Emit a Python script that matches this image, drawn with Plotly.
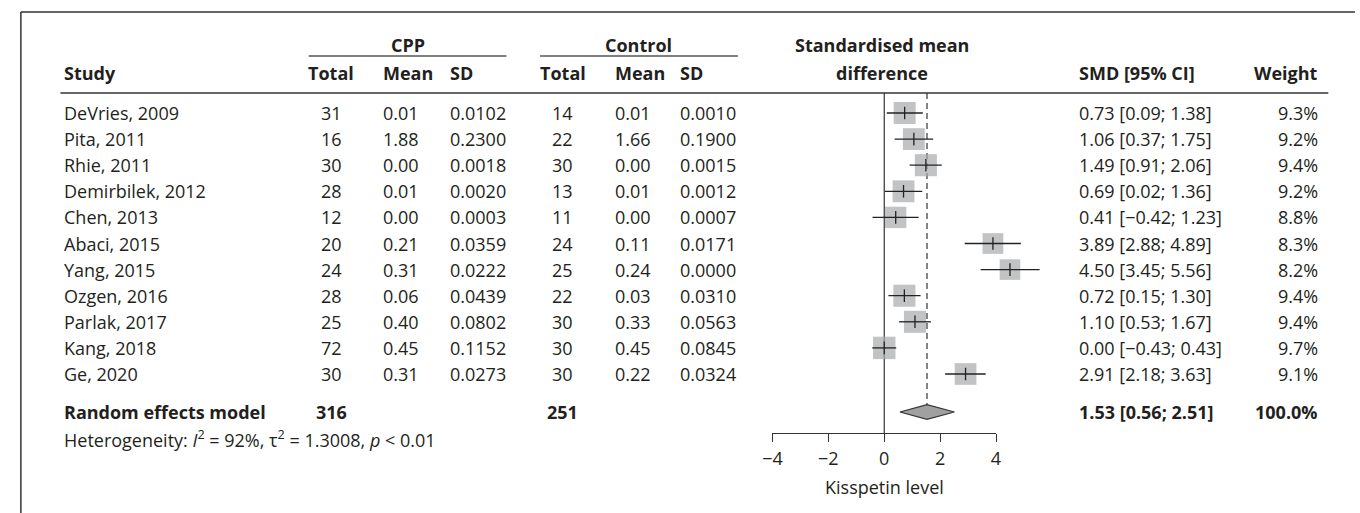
import math
import plotly.graph_objects as go

# ---------------- data ----------------
studies = ["DeVries, 2009", "Pita, 2011", "Rhie, 2011", "Demirbilek, 2012", "Chen, 2013",
           "Abaci, 2015", "Yang, 2015", "Ozgen, 2016", "Parlak, 2017", "Kang, 2018", "Ge, 2020"]
cpp_total = [31, 16, 30, 28, 12, 20, 24, 28, 25, 72, 30]
cpp_mean = [0.01, 1.88, 0.00, 0.01, 0.00, 0.21, 0.31, 0.06, 0.40, 0.45, 0.31]
cpp_sd = [0.0102, 0.2300, 0.0018, 0.0020, 0.0003, 0.0359, 0.0222, 0.0439, 0.0802, 0.1152, 0.0273]
ctrl_total = [14, 22, 30, 13, 11, 24, 25, 22, 30, 30, 30]
ctrl_mean = [0.01, 1.66, 0.00, 0.01, 0.00, 0.11, 0.24, 0.03, 0.33, 0.45, 0.22]
ctrl_sd = [0.0010, 0.1900, 0.0015, 0.0012, 0.0007, 0.0171, 0.0000, 0.0310, 0.0563, 0.0845, 0.0324]
smd = [0.73, 1.06, 1.49, 0.69, 0.41, 3.89, 4.50, 0.72, 1.10, 0.00, 2.91]
ci_lo = [0.09, 0.37, 0.91, 0.02, -0.42, 2.88, 3.45, 0.15, 0.53, -0.43, 2.18]
ci_hi = [1.38, 1.75, 2.06, 1.36, 1.23, 4.89, 5.56, 1.30, 1.67, 0.43, 3.63]
weight = [9.3, 9.2, 9.4, 9.2, 8.8, 8.3, 8.2, 9.4, 9.4, 9.7, 9.1]

pooled_label = "Random effects model"
pooled_cpp_total = 316
pooled_ctrl_total = 251
pooled_smd = 1.53
pooled_lo = 0.56
pooled_hi = 2.51
pooled_weight = 100.0
heterogeneity = "Heterogeneity: <i>I</i><sup>2</sup> = 92%, \u03c4<sup>2</sup> = 1.3008, <i>p</i> &lt; 0.01"
x_ticks = [-4, -2, 0, 2, 4]
x_title = "Kisspetin level"

# ---------------- layout constants (pixels) ----------------
W, H = 1360, 513
FONT = "Open Sans"
FS = 18
TXT = "#231f20"
LINE = "#333333"
BOX = "#a7a9ac"

ROW0, STEP = 113, 26.1          # pixel centre of first study row, row pitch
X0PX, PXU = 884, 28.25          # pixel of SMD=0, pixels per SMD unit
Y_HEAD1, Y_HEAD2, Y_HLINE = 45, 73, 93
Y_POOL, Y_HET, Y_AXIS, Y_TITLE = 412, 439, 433, 487


def rowv(p):
    return (p - ROW0) / STEP


def px(p):
    return p / W


def py(p):
    return 1 - p / H


def fnum(v, d):
    s = f"{abs(v):.{d}f}"
    return ("\u2212" + s) if v < 0 else s


n = len(studies)
rows = list(range(n))
pool_row = rowv(Y_POOL)

fig = go.Figure()

# CI lines
cx, cy = [], []
for i in rows:
    cx += [ci_lo[i], ci_hi[i], None]
    cy += [i, i, None]
# boxes
fig.add_trace(go.Scatter(x=smd, y=rows, mode="markers",
                         marker=dict(symbol="square", color=BOX,
                                     size=[7.2 * math.sqrt(w) for w in weight], line=dict(width=0)),
                         showlegend=False, hoverinfo="skip"))
fig.add_trace(go.Scatter(x=cx, y=cy, mode="lines", line=dict(color="#222222", width=1.3),
                         hoverinfo="skip", showlegend=False))
# point estimate ticks
fig.add_trace(go.Scatter(x=smd, y=rows, mode="markers",
                         marker=dict(symbol="line-ns", size=9, line=dict(color="#222222", width=1.3)),
                         showlegend=False, hoverinfo="skip"))
# diamond
dh = 7.3 / STEP
fig.add_trace(go.Scatter(x=[pooled_lo, pooled_smd, pooled_hi, pooled_smd, pooled_lo],
                         y=[pool_row, pool_row - dh, pool_row, pool_row + dh, pool_row],
                         mode="lines", fill="toself", fillcolor="#a0a0a0",
                         line=dict(color="#333333", width=1.2), showlegend=False, hoverinfo="skip"))
# helper trace for tick axis
fig.add_trace(go.Scatter(x=[x_ticks[0], x_ticks[-1]], y=[None, None], xaxis="x2", yaxis="y",
                         mode="markers", showlegend=False, hoverinfo="skip"))

shapes = []
# frame
shapes.append(dict(type="line", xref="paper", yref="paper", x0=px(11), x1=1, y0=py(12), y1=py(12),
                   line=dict(color=LINE, width=1.5)))
shapes.append(dict(type="line", xref="paper", yref="paper", x0=px(11), x1=px(11), y0=py(12), y1=0,
                   line=dict(color=LINE, width=1.5)))
# header rule
shapes.append(dict(type="line", xref="paper", yref="paper", x0=px(51), x1=px(1333), y0=py(Y_HLINE),
                   y1=py(Y_HLINE), line=dict(color=LINE, width=1.5)))
# group underlines
for a, b in [(302, 502), (536, 736)]:
    shapes.append(dict(type="line", xref="paper", yref="paper", x0=px(a), x1=px(b), y0=py(56), y1=py(56),
                       line=dict(color="#555555", width=1.5)))
# zero line
shapes.append(dict(type="line", xref="x", yref="y", x0=0, x1=0, y0=rowv(Y_HLINE), y1=rowv(Y_AXIS),
                   line=dict(color=LINE, width=1.2), layer="below"))
# pooled dashed line
shapes.append(dict(type="line", xref="x", yref="y", x0=pooled_smd, x1=pooled_smd, y0=rowv(Y_HLINE),
                   y1=pool_row - dh, line=dict(color=LINE, width=1.2, dash="6px,4px"), layer="below"))

ann = []


def add(text, xpix, y, anchor="left", bold=False, yref="y", size=FS):
    if bold:
        text = f"<b>{text}</b>"
    ann.append(dict(text=text, x=px(xpix), y=y, xref="paper", yref=yref, xanchor=anchor,
                    yanchor="middle", showarrow=False, font=dict(family=FONT, size=size, color=TXT)))


# headers
hy1, hy2 = py(Y_HEAD1), py(Y_HEAD2)
add("CPP", 402, hy1, "center", True, "paper")
add("Control", 636, hy1, "center", True, "paper")
add("Standardised mean", 882, hy1, "center", True, "paper")
add("Study", 53, hy2, "left", True, "paper")
add("Total", 325, hy2, "center", True, "paper")
add("Mean", 375, hy2, "left", True, "paper")
add("SD", 443, hy2, "left", True, "paper")
add("Total", 559, hy2, "center", True, "paper")
add("Mean", 610, hy2, "left", True, "paper")
add("SD", 675, hy2, "left", True, "paper")
add("difference", 882, hy2, "center", True, "paper")
add("SMD [95% CI]", 1079, hy2, "left", True, "paper")
add("Weight", 1325, hy2, "right", True, "paper")

for i in rows:
    add(studies[i], 53, i)
    add(str(cpp_total[i]), 325, i, "center")
    add(fnum(cpp_mean[i], 2), 375, i)
    add(fnum(cpp_sd[i], 4), 443, i)
    add(str(ctrl_total[i]), 559, i, "center")
    add(fnum(ctrl_mean[i], 2), 610, i)
    add(fnum(ctrl_sd[i], 4), 675, i)
    add(f"{fnum(smd[i], 2)} [{fnum(ci_lo[i], 2)}; {fnum(ci_hi[i], 2)}]", 1079, i)
    add(f"{weight[i]:.1f}%", 1325, i, "right")

add(pooled_label, 53, pool_row, bold=True)
add(str(pooled_cpp_total), 325, pool_row, "center", True)
add(str(pooled_ctrl_total), 559, pool_row, "center", True)
add(f"{pooled_smd:.2f} [{pooled_lo:.2f}; {pooled_hi:.2f}]", 1079, pool_row, bold=True)
add(f"{pooled_weight:.1f}%", 1325, pool_row, "right", True)
add(heterogeneity, 53, rowv(Y_HET))
add(x_title, X0PX, py(Y_TITLE), "center", False, "paper")

fig.update_layout(
    width=W, height=H, margin=dict(l=0, r=0, t=0, b=0),
    paper_bgcolor="white", plot_bgcolor="rgba(0,0,0,0)",
    font=dict(family=FONT, size=FS, color=TXT),
    showlegend=False,
    xaxis=dict(domain=[0, 1], range=[-X0PX / PXU, (W - X0PX) / PXU], visible=False, fixedrange=True),
    xaxis2=dict(domain=[px(X0PX + x_ticks[0] * PXU), px(X0PX + x_ticks[-1] * PXU)],
                range=[x_ticks[0], x_ticks[-1]], anchor="free", position=py(Y_AXIS),
                showline=True, linecolor=LINE, linewidth=1.3, ticks="outside", ticklen=8,
                tickwidth=1.3, tickcolor=LINE, tickvals=x_ticks, showgrid=False, zeroline=False,
                tickfont=dict(family=FONT, size=FS, color=TXT), ticklabelstandoff=1),
    yaxis=dict(domain=[0, 1], range=[rowv(H), rowv(0)], visible=False, fixedrange=True),
    shapes=shapes, annotations=ann,
)

fig.write_html("out.html")
